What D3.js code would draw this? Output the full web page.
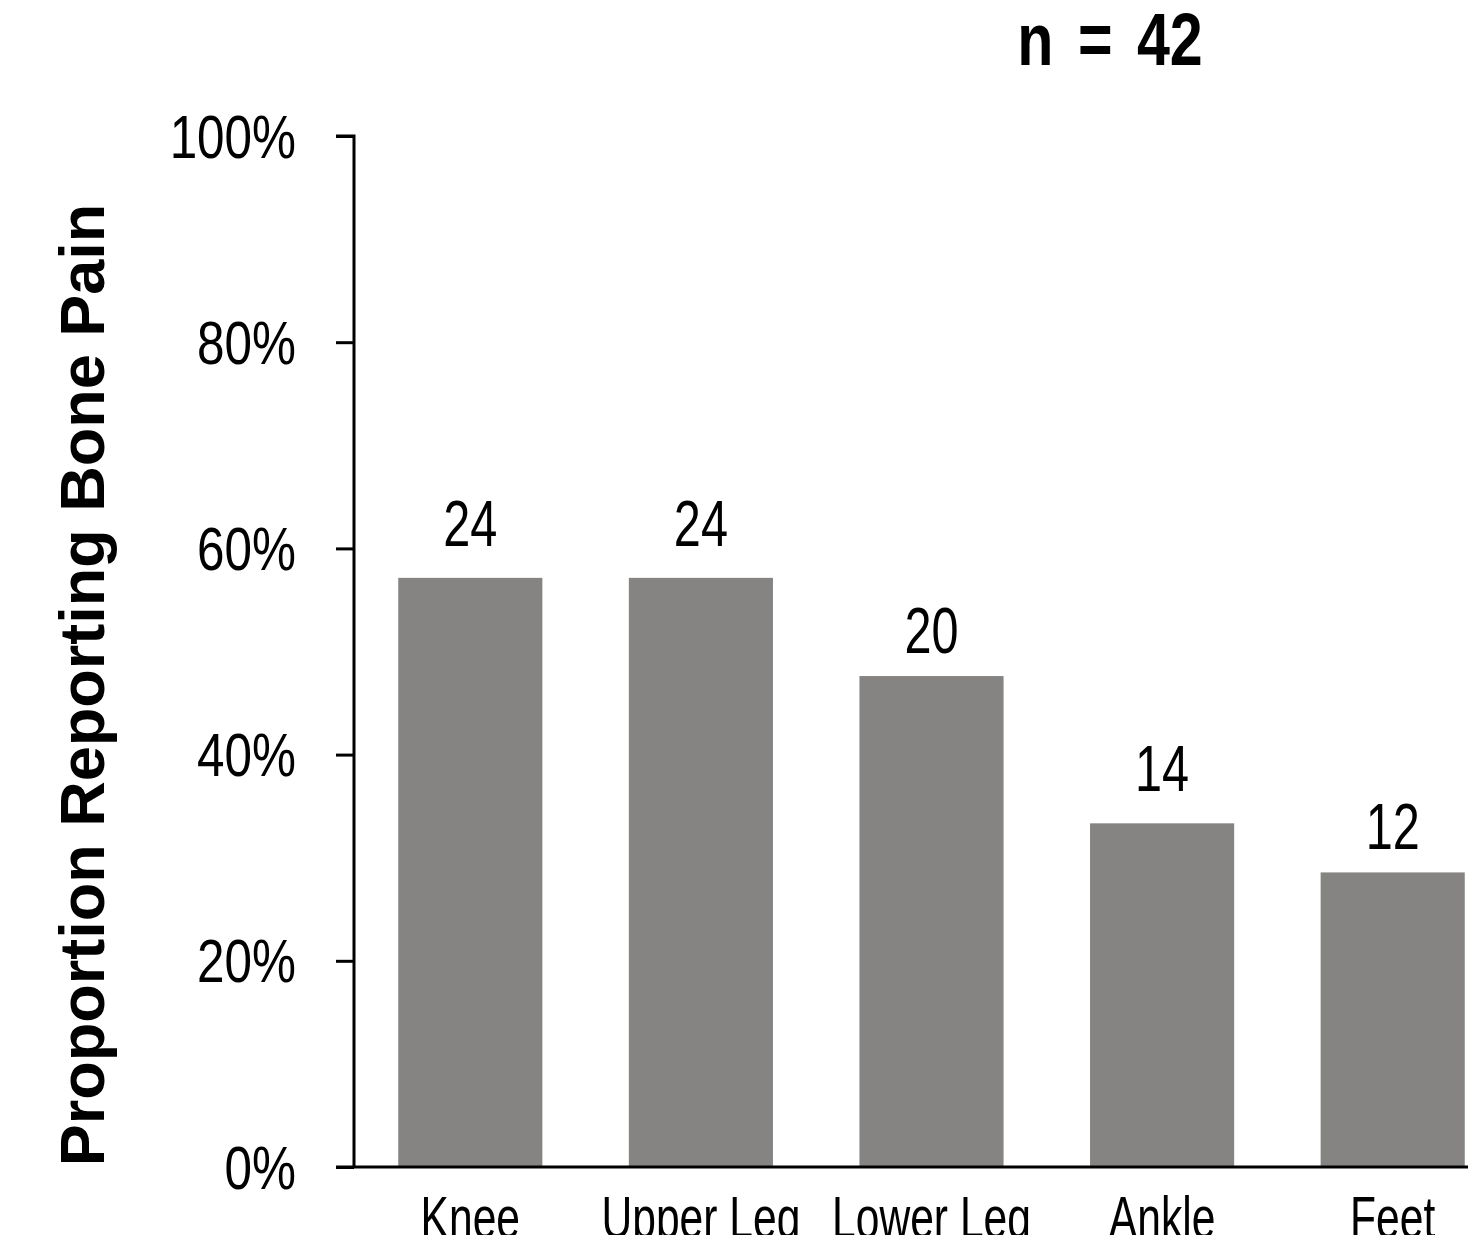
<!DOCTYPE html>
<html>
<head>
<meta charset="utf-8">
<script src="https://cdn.jsdelivr.net/npm/d3@7"></script>
<style>
  html, body { margin: 0; padding: 0; background: #fff; overflow: hidden; }
  svg { display: block; }
</style>
</head>
<body>
<script>
const categories = ["Knee", "Upper Leg", "Lower Leg", "Ankle", "Feet"];
const counts = [24, 24, 20, 14, 12];
const totalN = 42;
const yTicks = [0, 0.2, 0.4, 0.6, 0.8, 1.0];
const yTitle = "Proportion Reporting Bone Pain";
const nLabel = "n = 42";

// layout: gap (px) between each value label's baseline and its bar top
const labelGaps = [32, 32, 23, 32, 23];

const W = 1468, H = 1235;
const sans = "'Liberation Sans', Arial, Helvetica, sans-serif";

const svg = d3.select("body").append("svg").attr("width", W).attr("height", H);

const x = d3.scaleBand().domain(categories).range([355, 1508]).paddingInner(0.375).paddingOuter(0.1875);
const y = d3.scaleLinear().domain([0, 1]).range([1167, 136]);

// bars
svg.selectAll("rect.bar").data(categories).enter().append("rect")
  .attr("class", "bar")
  .attr("x", d => x(d))
  .attr("width", x.bandwidth())
  .attr("y", (d, i) => y(counts[i] / totalN))
  .attr("height", (d, i) => y(0) - y(counts[i] / totalN))
  .attr("fill", "#858482");

// value labels (condensed via horizontal scale)
svg.selectAll("text.val").data(categories).enter().append("text")
  .attr("class", "val")
  .attr("transform", (d, i) => `translate(${x(d) + x.bandwidth() / 2},${y(counts[i] / totalN) - labelGaps[i]}) scale(0.76,1)`)
  .attr("text-anchor", "middle")
  .attr("font-family", sans)
  .attr("font-size", 64)
  .attr("fill", "#000")
  .text((d, i) => counts[i]);

// y axis
const yAxis = d3.axisLeft(y).tickValues(yTicks).tickFormat(d3.format(".0%")).tickSize(18).tickPadding(40);
const gy = svg.append("g").attr("transform", "translate(354,0)").call(yAxis);
gy.select(".domain").attr("stroke", "#000").attr("stroke-width", 3).attr("d", "M-18,136H0V1167");
gy.selectAll(".tick line").attr("stroke", "#000").attr("stroke-width", 3);
gy.selectAll(".tick text")
  .attr("x", 0).attr("dy", null).attr("y", 0)
  .attr("transform", "translate(-58,21) scale(0.81,1)")
  .attr("font-family", sans).attr("font-size", 61).attr("fill", "#000");

// x axis
const xAxis = d3.axisBottom(x).tickSize(0).tickPadding(0);
const gx = svg.append("g").attr("transform", "translate(0,1167)").call(xAxis);
gx.select(".domain").attr("stroke", "#000").attr("stroke-width", 3).attr("d", "M336,0H1470");
gx.selectAll(".tick text")
  .attr("y", 0).attr("dy", null)
  .attr("transform", "translate(0,71) scale(0.71,1)")
  .attr("font-family", sans).attr("font-size", 60).attr("fill", "#000");

// y title
svg.append("text")
  .attr("transform", "translate(104,685) rotate(-90)")
  .attr("text-anchor", "middle")
  .attr("font-family", sans)
  .attr("font-weight", "bold")
  .attr("font-size", 63)
  .attr("fill", "#000")
  .text(yTitle);

// n label
svg.append("text")
  .attr("transform", "translate(1110,65) scale(0.8,1)")
  .attr("text-anchor", "middle")
  .attr("font-family", sans)
  .attr("font-weight", "bold")
  .attr("font-size", 74)
  .attr("word-spacing", 10)
  .attr("fill", "#000")
  .text(nLabel);
</script>
</body>
</html>
